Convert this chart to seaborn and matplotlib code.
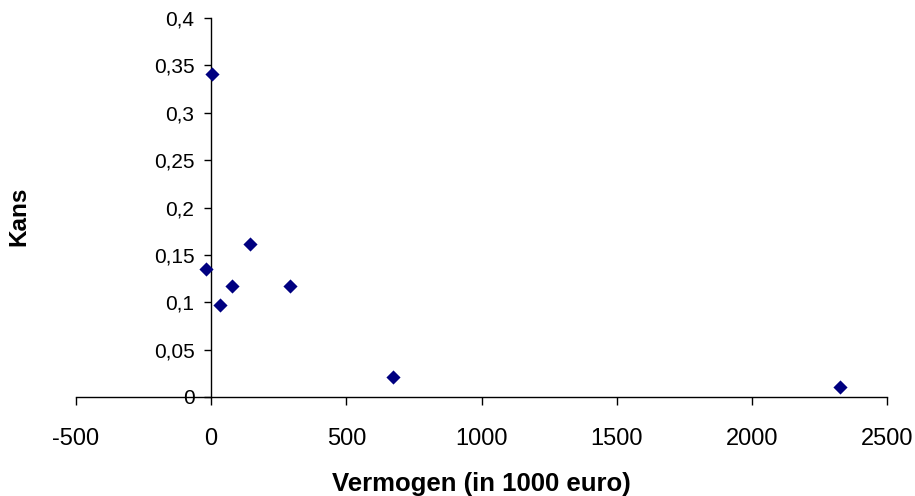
import matplotlib
matplotlib.use("Agg")
import matplotlib.pyplot as plt
import seaborn as sns
import pandas as pd
from matplotlib.ticker import FuncFormatter, MultipleLocator

vermogen = [2, -20, 32, 77, 143, 291, 672, 2326]
kans = [0.341, 0.135, 0.097, 0.117, 0.161, 0.117, 0.021, 0.011]
x_label = "Vermogen (in 1000 euro)"
y_label = "Kans"

sns.set_style("white")
plt.rcParams["font.family"] = ["Liberation Sans", "DejaVu Sans"]
plt.rcParams["axes.unicode_minus"] = False
plt.rcParams["text.color"] = "black"
plt.rcParams["axes.labelcolor"] = "black"
plt.rcParams["xtick.color"] = "black"
plt.rcParams["ytick.color"] = "black"

df = pd.DataFrame({"x": vermogen, "y": kans})

fig = plt.figure(figsize=(9.15, 4.96), dpi=100)
ax = fig.add_axes([76/915, 1-397/496, (887-76)/915, (397-18)/496])

sns.scatterplot(data=df, x="x", y="y", marker="D", color="#000080",
                s=52, linewidth=0, ax=ax, zorder=5, clip_on=False)

ax.set_xlim(-500, 2500)
ax.set_ylim(0, 0.4)
ax.xaxis.set_major_locator(MultipleLocator(500))
ax.xaxis.set_major_formatter(FuncFormatter(lambda v, p: "%d" % round(v)))
ax.yaxis.set_major_locator(MultipleLocator(0.05))
ax.yaxis.set_major_formatter(FuncFormatter(lambda v, p: ("%g" % round(v, 2)).replace(".", ",")))

for s in ["top", "right"]:
    ax.spines[s].set_visible(False)
ax.spines["left"].set_position(("data", 0))
ax.spines["bottom"].set_position(("data", 0))
for s in ["left", "bottom"]:
    ax.spines[s].set_color("black")
    ax.spines[s].set_linewidth(1.0)

ax.tick_params(axis="x", direction="out", length=6, width=1, colors="black",
               labelsize=17, pad=16, bottom=True)
ax.tick_params(axis="y", direction="out", length=5, width=1, colors="black",
               labelsize=15, pad=7, left=True)

ax.set_xlabel(x_label, fontsize=18.5, fontweight="bold", color="black")
ax.set_ylabel(y_label, fontsize=17.5, fontweight="bold", color="black")
ax.xaxis.set_label_coords(0.5, (397-484)/379)
ax.xaxis.label.set_va("center")
ax.yaxis.set_label_coords((19-76)/811, (397-216)/379)
ax.yaxis.label.set_va("center")

fig.savefig("out.png", dpi=100)
